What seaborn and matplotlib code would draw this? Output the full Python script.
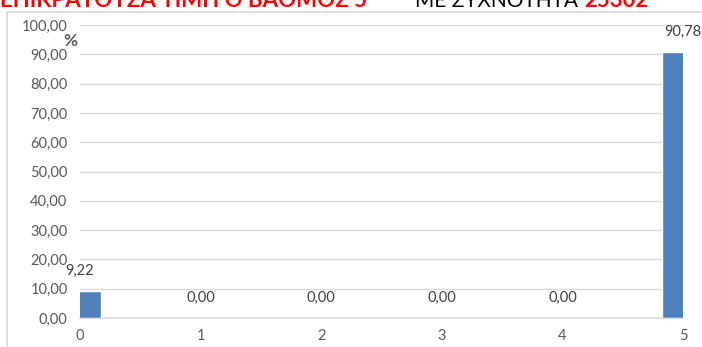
import pandas as pd
import matplotlib.pyplot as plt
import seaborn as sns
from matplotlib.patches import Rectangle

grades = [0, 1, 2, 3, 4, 5]
percent = [9.22, 0.00, 0.00, 0.00, 0.00, 90.78]
y_ticks = [0, 10, 20, 30, 40, 50, 60, 70, 80, 90, 100]
title_red = "ΕΠΙΚΡΑΤΟΥΣΑ ΤΙΜΗ Ο ΒΑΘΜΟΣ 5"
title_black = "ΜΕ ΣΥΧΝΟΤΗΤΑ"
title_count = "25302"

BAR = "#4f81bd"
GRID = "#d9d9d9"
TXT = "#595959"


def comma(v):
    return f"{v:.2f}".replace(".", ",")


def main():
    sns.set_style("white")
    plt.rcParams["font.family"] = ["Lato", "DejaVu Sans"]

    df = pd.DataFrame({"grade": grades, "percent": percent})

    fig = plt.figure(figsize=(7.02, 3.47), dpi=100)
    W, H = 702, 347
    ax = fig.add_axes([80 / W, (H - 318) / H, (683 - 80) / W, (318 - 25) / H])

    # chart frame (only top/left edges inside the picture)
    fig.patches.append(Rectangle((7 / W, -0.1), 1.2, (H - 12) / H + 0.1,
                                 transform=fig.transFigure, fill=False,
                                 edgecolor=GRID, linewidth=1.2))

    sns.barplot(data=df, x="grade", y="percent", native_scale=True,
                width=0.35, color=BAR, saturation=1, ax=ax, zorder=3)

    ax.set_xlim(0, 5)
    ax.set_ylim(0, 100)
    ax.set_yticks(y_ticks)
    ax.set_yticklabels([comma(t) for t in y_ticks])
    ax.set_xticks(grades)
    ax.set_xticklabels([str(g) for g in grades])
    ax.grid(axis="y", color=GRID, linewidth=1, zorder=0)
    ax.set_axisbelow(True)
    for s in ["top", "right", "left"]:
        ax.spines[s].set_visible(False)
    ax.spines["bottom"].set_color(GRID)
    ax.spines["bottom"].set_linewidth(1.2)
    ax.tick_params(axis="both", length=0, labelsize=10.5, labelcolor=TXT)
    ax.tick_params(axis="y", pad=9)
    ax.tick_params(axis="x", pad=8)
    ax.set_xlabel("")
    ax.set_ylabel("")

    for g, v in zip(grades, percent):
        ax.annotate(comma(v), (g, v), xytext=(0, 20), textcoords="offset pixels",
                    ha="center", va="center", fontsize=10.5, color="#404040",
                    annotation_clip=False)

    fig.text(70 / W, (H - 41) / H, "%", ha="center", va="center",
             fontsize=12.5, fontweight="bold", color=TXT)

    # cut-off title above the chart
    base = (H - 7) / H
    fig.text(367 / W, base, title_red, ha="right", va="baseline",
             fontsize=16, fontweight="bold", color="#ff0000")
    fig.text(578 / W, base, title_black, ha="right", va="baseline",
             fontsize=15, color="black")
    fig.text(584 / W, base, title_count, ha="left", va="baseline",
             fontsize=16, fontweight="bold", color="#ff0000")

    fig.savefig("out.png", dpi=100)
    plt.close(fig)


if __name__ == "__main__":
    main()
